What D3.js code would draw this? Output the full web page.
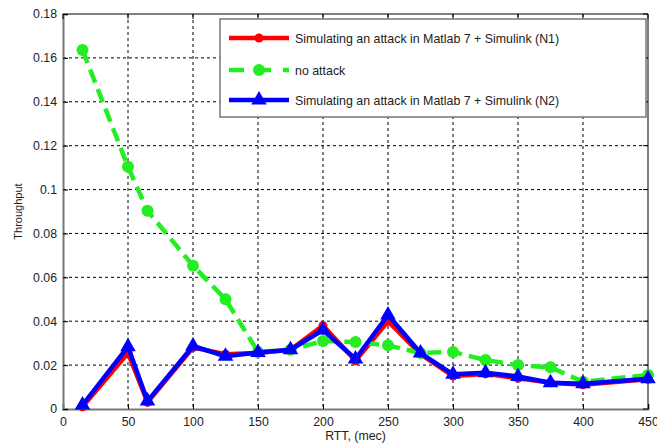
<!DOCTYPE html>
<html>
<head>
<meta charset="utf-8">
<script src="https://cdn.jsdelivr.net/npm/d3@7"></script>
<style>
  body { margin: 0; background: #fff; }
  text { font-family: "Liberation Sans", Arial, sans-serif; fill: #222; }
</style>
</head>
<body>
<script>
// RTT values (x) and throughput for each series
const rtt = [15, 50, 65, 100, 125, 150, 175, 200, 225, 250, 275, 300, 325, 350, 375, 400, 450];
const n1 = [0.001, 0.0255, 0.003, 0.028, 0.025, 0.0255, 0.027, 0.038, 0.022, 0.040, 0.025, 0.015, 0.016, 0.014, 0.012, 0.011, 0.0135];
const noAttack = [0.1636, 0.1104, 0.0903, 0.0653, 0.050, 0.026, 0.027, 0.031, 0.0305, 0.029, 0.0255, 0.026, 0.0223, 0.020, 0.019, 0.0124, 0.0155];
const n2 = [0.0018, 0.0284, 0.0036, 0.0287, 0.024, 0.0257, 0.027, 0.036, 0.0228, 0.0428, 0.0255, 0.0158, 0.0165, 0.0148, 0.012, 0.0115, 0.0138];

const xTicks = [0, 50, 100, 150, 200, 250, 300, 350, 400, 450];
const yTicks = [0, 0.02, 0.04, 0.06, 0.08, 0.1, 0.12, 0.14, 0.16, 0.18];

const series = [
  {name: "Simulating an attack in Matlab 7 + Simulink (N1)", values: n1, color: "#ff0000", dash: null, marker: "circle", r: 4.5},
  {name: "no attack", values: noAttack, color: "#22ee22", dash: "14,7", marker: "circle", r: 6},
  {name: "Simulating an attack in Matlab 7 + Simulink (N2)", values: n2, color: "#0000ff", dash: null, marker: "triangle", r: 6}
];

const W = 657, H = 444;
const margin = {top: 14, right: 9, bottom: 35, left: 63};
const width = W - margin.left - margin.right,
      height = H - margin.top - margin.bottom;

const svg = d3.select("body").append("svg")
  .attr("width", W).attr("height", H);
const g = svg.append("g").attr("transform", `translate(${margin.left},${margin.top})`);

const x = d3.scaleLinear().domain([0, 450]).range([0, width]);
const y = d3.scaleLinear().domain([0, 0.18]).range([height, 0]);

// grid
g.append("g").selectAll("line").data(xTicks.slice(1, -1)).enter().append("line")
  .attr("x1", d => x(d)).attr("x2", d => x(d)).attr("y1", 0).attr("y2", height)
  .attr("stroke", "#000").attr("stroke-width", 1).attr("stroke-dasharray", "3,3");
g.append("g").selectAll("line").data(yTicks.slice(1, -1)).enter().append("line")
  .attr("y1", d => y(d)).attr("y2", d => y(d)).attr("x1", 0).attr("x2", width)
  .attr("stroke", "#000").attr("stroke-width", 1).attr("stroke-dasharray", "3,3");

// box frame (top/right black, left/bottom gray)
g.append("line").attr("x1", 0).attr("x2", width).attr("y1", 0).attr("y2", 0).attr("stroke", "#000");
g.append("line").attr("x1", width).attr("x2", width).attr("y1", 0).attr("y2", height).attr("stroke", "#000");

// axes
const xAxis = g.append("g").attr("transform", `translate(0,${height})`)
  .call(d3.axisBottom(x).tickValues(xTicks).tickSize(-5).tickPadding(8).tickFormat(d3.format("d")));
const yAxis = g.append("g")
  .call(d3.axisLeft(y).tickValues(yTicks).tickSize(-5).tickPadding(6).tickFormat(d => d === 0 ? "0" : d3.format("~g")(d)));
[xAxis, yAxis].forEach(a => {
  a.select(".domain").attr("stroke", "#777").attr("stroke-width", 2);
  a.selectAll(".tick line").attr("stroke", "#000");
  a.selectAll("text").style("font-size", "12.3px").attr("fill", "#222");
});
// top/right ticks
g.append("g").selectAll("line").data(xTicks).enter().append("line")
  .attr("x1", d => x(d)).attr("x2", d => x(d)).attr("y1", 0).attr("y2", 5).attr("stroke", "#000");
g.append("g").selectAll("line").data(yTicks).enter().append("line")
  .attr("x1", width).attr("x2", width - 5).attr("y1", d => y(d)).attr("y2", d => y(d)).attr("stroke", "#000");

// axis labels
svg.append("text").attr("x", margin.left + x(225)).attr("y", H - 4)
  .attr("text-anchor", "middle").style("font-size", "12.3px").text("RTT, (mec)");
svg.append("text").attr("transform", `translate(22,${margin.top + height / 2}) rotate(-90)`)
  .attr("text-anchor", "middle").style("font-size", "11px").text("Throughput");

const line = d3.line().x((d, i) => x(rtt[i])).y(d => y(d));
const tri = d3.symbol().type(d3.symbolTriangle).size(105);

function drawMarker(sel, s, cx, cy) {
  if (s.marker === "circle") {
    sel.append("circle").attr("cx", cx).attr("cy", cy).attr("r", s.r).attr("fill", s.color);
  } else {
    sel.append("path").attr("d", tri).attr("transform", `translate(${cx},${cy})`).attr("fill", s.color);
  }
}

series.forEach(s => {
  const sg = g.append("g");
  sg.append("path").datum(s.values).attr("d", line)
    .attr("fill", "none").attr("stroke", s.color).attr("stroke-width", 4.5)
    .attr("stroke-linejoin", "round")
    .attr("stroke-dasharray", s.dash);
  s.values.forEach((v, i) => drawMarker(sg, s, x(rtt[i]), y(v)));
});

// legend
const lg = svg.append("g").attr("transform", "translate(220,19)");
lg.append("rect").attr("width", 426).attr("height", 98)
  .attr("fill", "#fff").attr("stroke", "#777").attr("stroke-width", 1.5);
const legY = [19, 51, 81];
series.forEach((s, i) => {
  const row = lg.append("g").attr("transform", `translate(0,${legY[i]})`);
  row.append("line").attr("x1", 9).attr("x2", 69).attr("y1", 0).attr("y2", 0)
    .attr("stroke", s.color).attr("stroke-width", 4.5)
    .attr("stroke-dasharray", s.dash ? "15,12" : null);
  drawMarker(row, s, 39, 0);
  row.append("text").attr("x", 75).attr("y", 4.5).style("font-size", "12.4px").text(s.name);
});
</script>
</body>
</html>
